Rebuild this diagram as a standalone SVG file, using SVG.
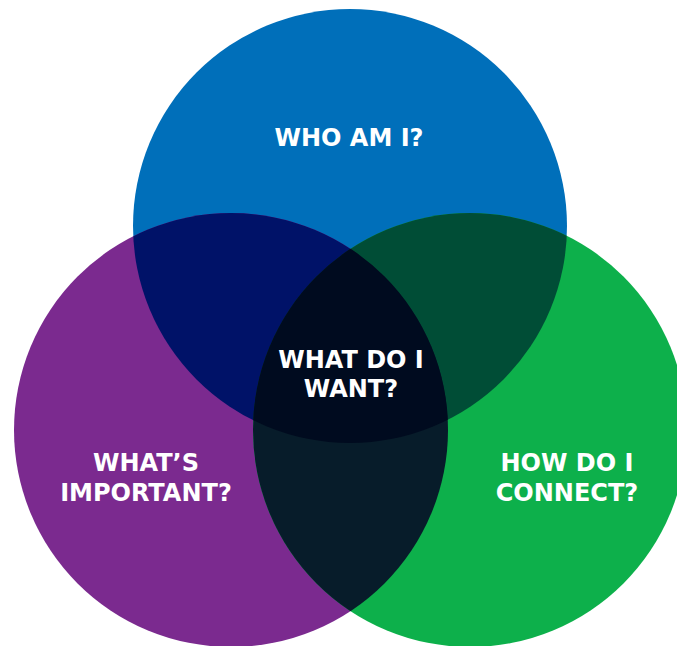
<svg xmlns="http://www.w3.org/2000/svg" width="677" height="646" viewBox="0 0 677 646">
<style>
.lbl{font-family:"DejaVu Sans","Verdana",sans-serif;font-weight:bold;font-size:24px;fill:#ffffff;text-anchor:middle}
</style>
<defs>
<clipPath id="cB"><circle cx="350" cy="226" r="217"/></clipPath>
<clipPath id="cP"><circle cx="231" cy="430" r="217"/></clipPath>
<clipPath id="cG"><circle cx="470" cy="430" r="217"/></clipPath>
</defs>
<rect width="677" height="646" fill="#ffffff"/>
<g id="circle-who">
<circle cx="350" cy="226" r="217" fill="#006FBA"/>
</g>
<g id="circle-important">
<circle cx="231" cy="430" r="217" fill="#7B2A8F"/>
</g>
<g id="circle-connect">
<circle cx="470" cy="430" r="217" fill="#0DB04B"/>
</g>
<g id="overlaps">
<g clip-path="url(#cB)"><circle cx="231" cy="430" r="217" fill="#001268"/></g>
<g clip-path="url(#cB)"><circle cx="470" cy="430" r="217" fill="#004D36"/></g>
<g clip-path="url(#cP)"><circle cx="470" cy="430" r="217" fill="#071C2A"/></g>
<g clip-path="url(#cB)"><g clip-path="url(#cP)"><circle cx="470" cy="430" r="217" fill="#000B1F"/></g></g>
</g>
<g id="connectors"></g>
<g id="labels">
<text class="lbl" x="349" y="146">WHO AM I?</text>
<text class="lbl" x="351" y="368">WHAT DO I</text>
<text class="lbl" x="351" y="397">WANT?</text>
<text class="lbl" x="146" y="471">WHAT’S</text>
<text class="lbl" x="146" y="501">IMPORTANT?</text>
<text class="lbl" x="567" y="471">HOW DO I</text>
<text class="lbl" x="567" y="501">CONNECT?</text>
</g>
</svg>
